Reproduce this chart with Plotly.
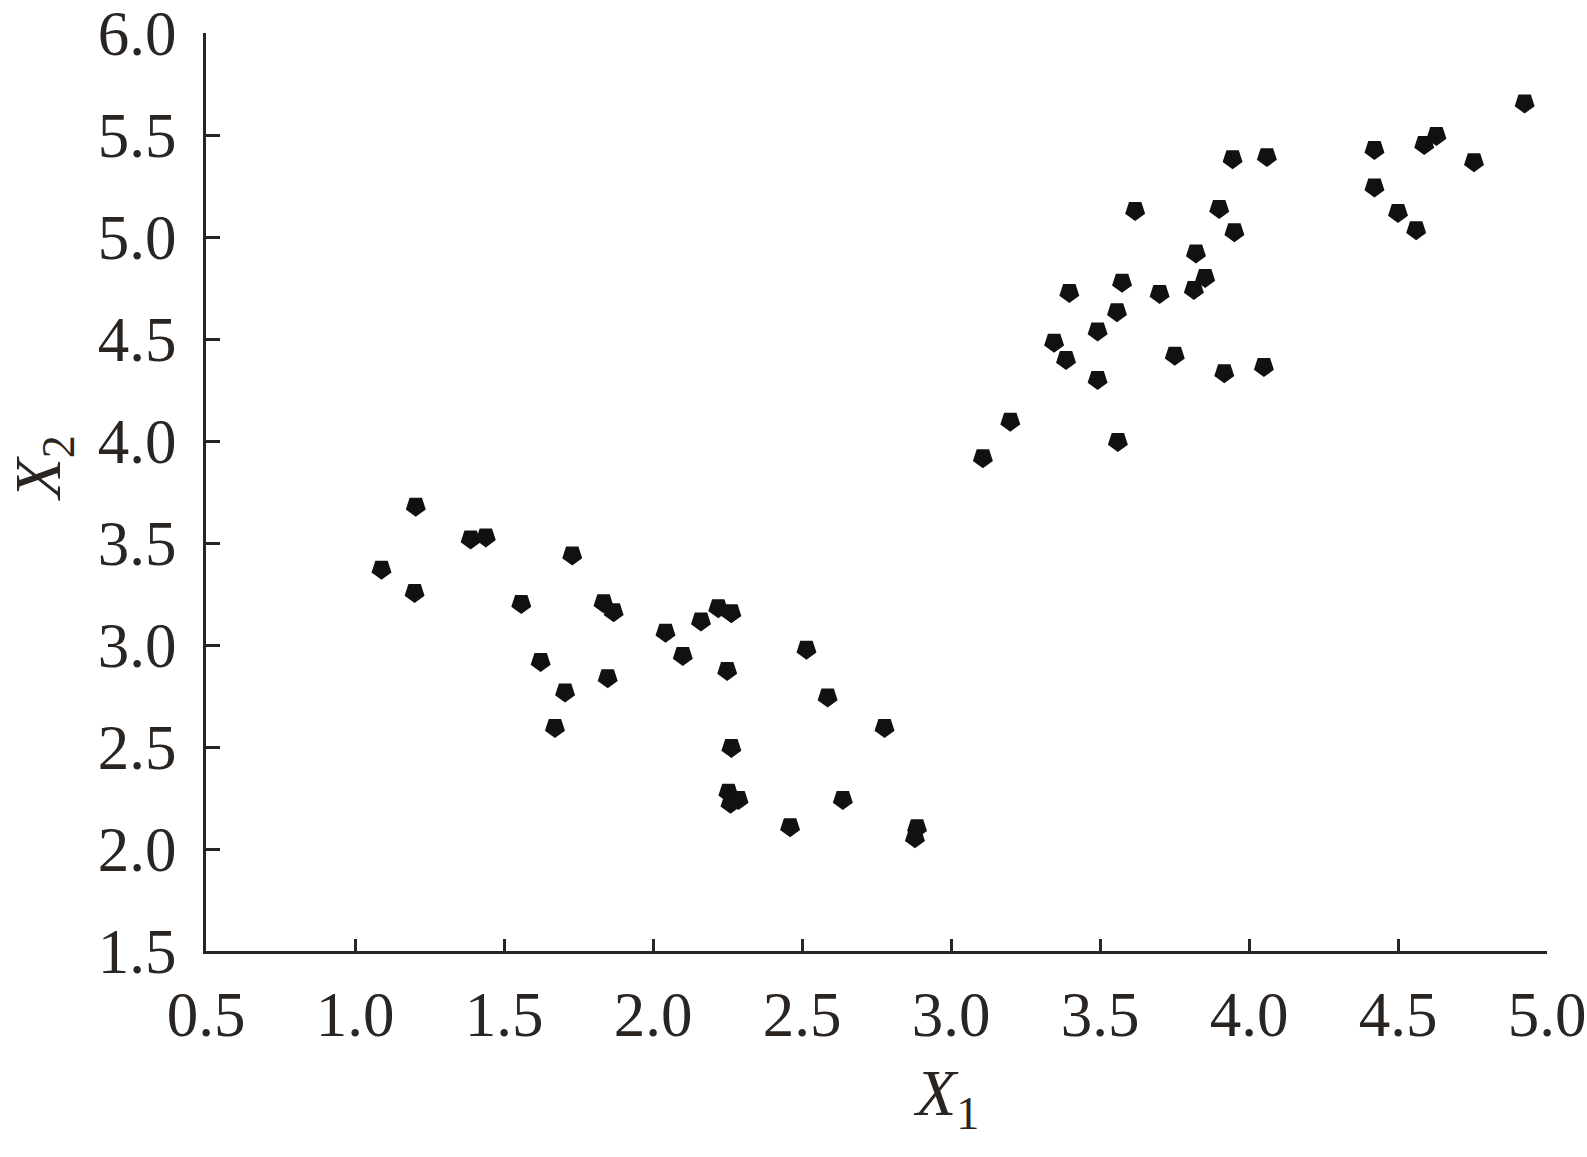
import plotly.graph_objects as go

x1 = [1.089, 1.204, 1.200, 1.388, 1.439, 1.558, 1.729, 1.623, 1.705, 1.671,
      1.834, 1.868, 1.848, 2.042, 2.100, 2.161, 2.219, 2.263, 2.249, 2.263,
      2.253, 2.287, 2.260, 2.460, 2.515, 2.586, 2.637, 2.777, 2.886, 2.879,
      3.107, 3.199, 3.346, 3.386, 3.397, 3.492, 3.492, 3.557, 3.574, 3.560,
      3.618, 3.700, 3.751, 3.815, 3.822, 3.853, 3.900, 3.945, 3.951, 3.917,
      4.060, 4.050, 4.421, 4.421, 4.500, 4.561, 4.588, 4.629, 4.755, 4.925]
x2 = [3.371, 3.680, 3.257, 3.520, 3.530, 3.203, 3.441, 2.919, 2.770, 2.596,
      3.207, 3.163, 2.840, 3.063, 2.949, 3.118, 3.183, 3.158, 2.875, 2.497,
      2.278, 2.243, 2.224, 2.109, 2.979, 2.745, 2.243, 2.596, 2.104, 2.055,
      3.918, 4.097, 4.484, 4.400, 4.728, 4.301, 4.539, 4.634, 4.778, 3.998,
      5.130, 4.723, 4.420, 4.743, 4.922, 4.802, 5.140, 5.384, 5.026, 4.335,
      5.394, 4.365, 5.429, 5.245, 5.120, 5.036, 5.453, 5.498, 5.369, 5.657]

tick_vals = [0.5, 1.0, 1.5, 2.0, 2.5, 3.0, 3.5, 4.0, 4.5, 5.0]
ytick_vals = [1.5, 2.0, 2.5, 3.0, 3.5, 4.0, 4.5, 5.0, 5.5, 6.0]

ink = "#2b2522"
font_family = "Liberation Serif, Times New Roman, serif"

fig = go.Figure(go.Scatter(
    x=x1, y=x2, mode="markers",
    marker=dict(symbol="pentagon", angle=180, size=21, color="#111111",
                line=dict(width=0)),
    showlegend=False, cliponaxis=False,
))

axis_common = dict(
    showline=True, linewidth=3, linecolor=ink,
    showgrid=False, zeroline=False, automargin=False,
    ticks="inside", tickwidth=3, tickcolor=ink,
    tickfont=dict(family=font_family, size=63, color=ink),
    tickformat=".1f", ticklabeloverflow="allow",
)

fig.update_xaxes(range=[0.5, 5.0], tickvals=tick_vals, ticklen=12, ticklabelstandoff=6, **axis_common)
fig.update_yaxes(range=[1.5, 6.0], tickvals=ytick_vals, ticklen=14, ticklabelstandoff=14, **axis_common)

fig.add_annotation(text="<i>X</i><sub>1</sub>", xref="paper", yref="paper",
                   x=0.552, y=-0.16, xanchor="center", yanchor="middle", showarrow=False,
                   font=dict(family=font_family, size=66, color=ink))
fig.add_annotation(text="<i>X</i><sub>2</sub>", xref="paper", yref="paper",
                   x=-0.122, y=0.526, xanchor="center", yanchor="middle", showarrow=False, textangle=-90,
                   font=dict(family=font_family, size=66, color=ink))

fig.update_layout(
    width=1587, height=1157,
    margin=dict(l=206, r=40, t=33, b=206),
    plot_bgcolor="white", paper_bgcolor="white",
)

fig.write_html("out.html",
               config={"displayModeBar": False},
               post_script="document.body.style.margin='0';document.body.style.overflow='hidden';")
